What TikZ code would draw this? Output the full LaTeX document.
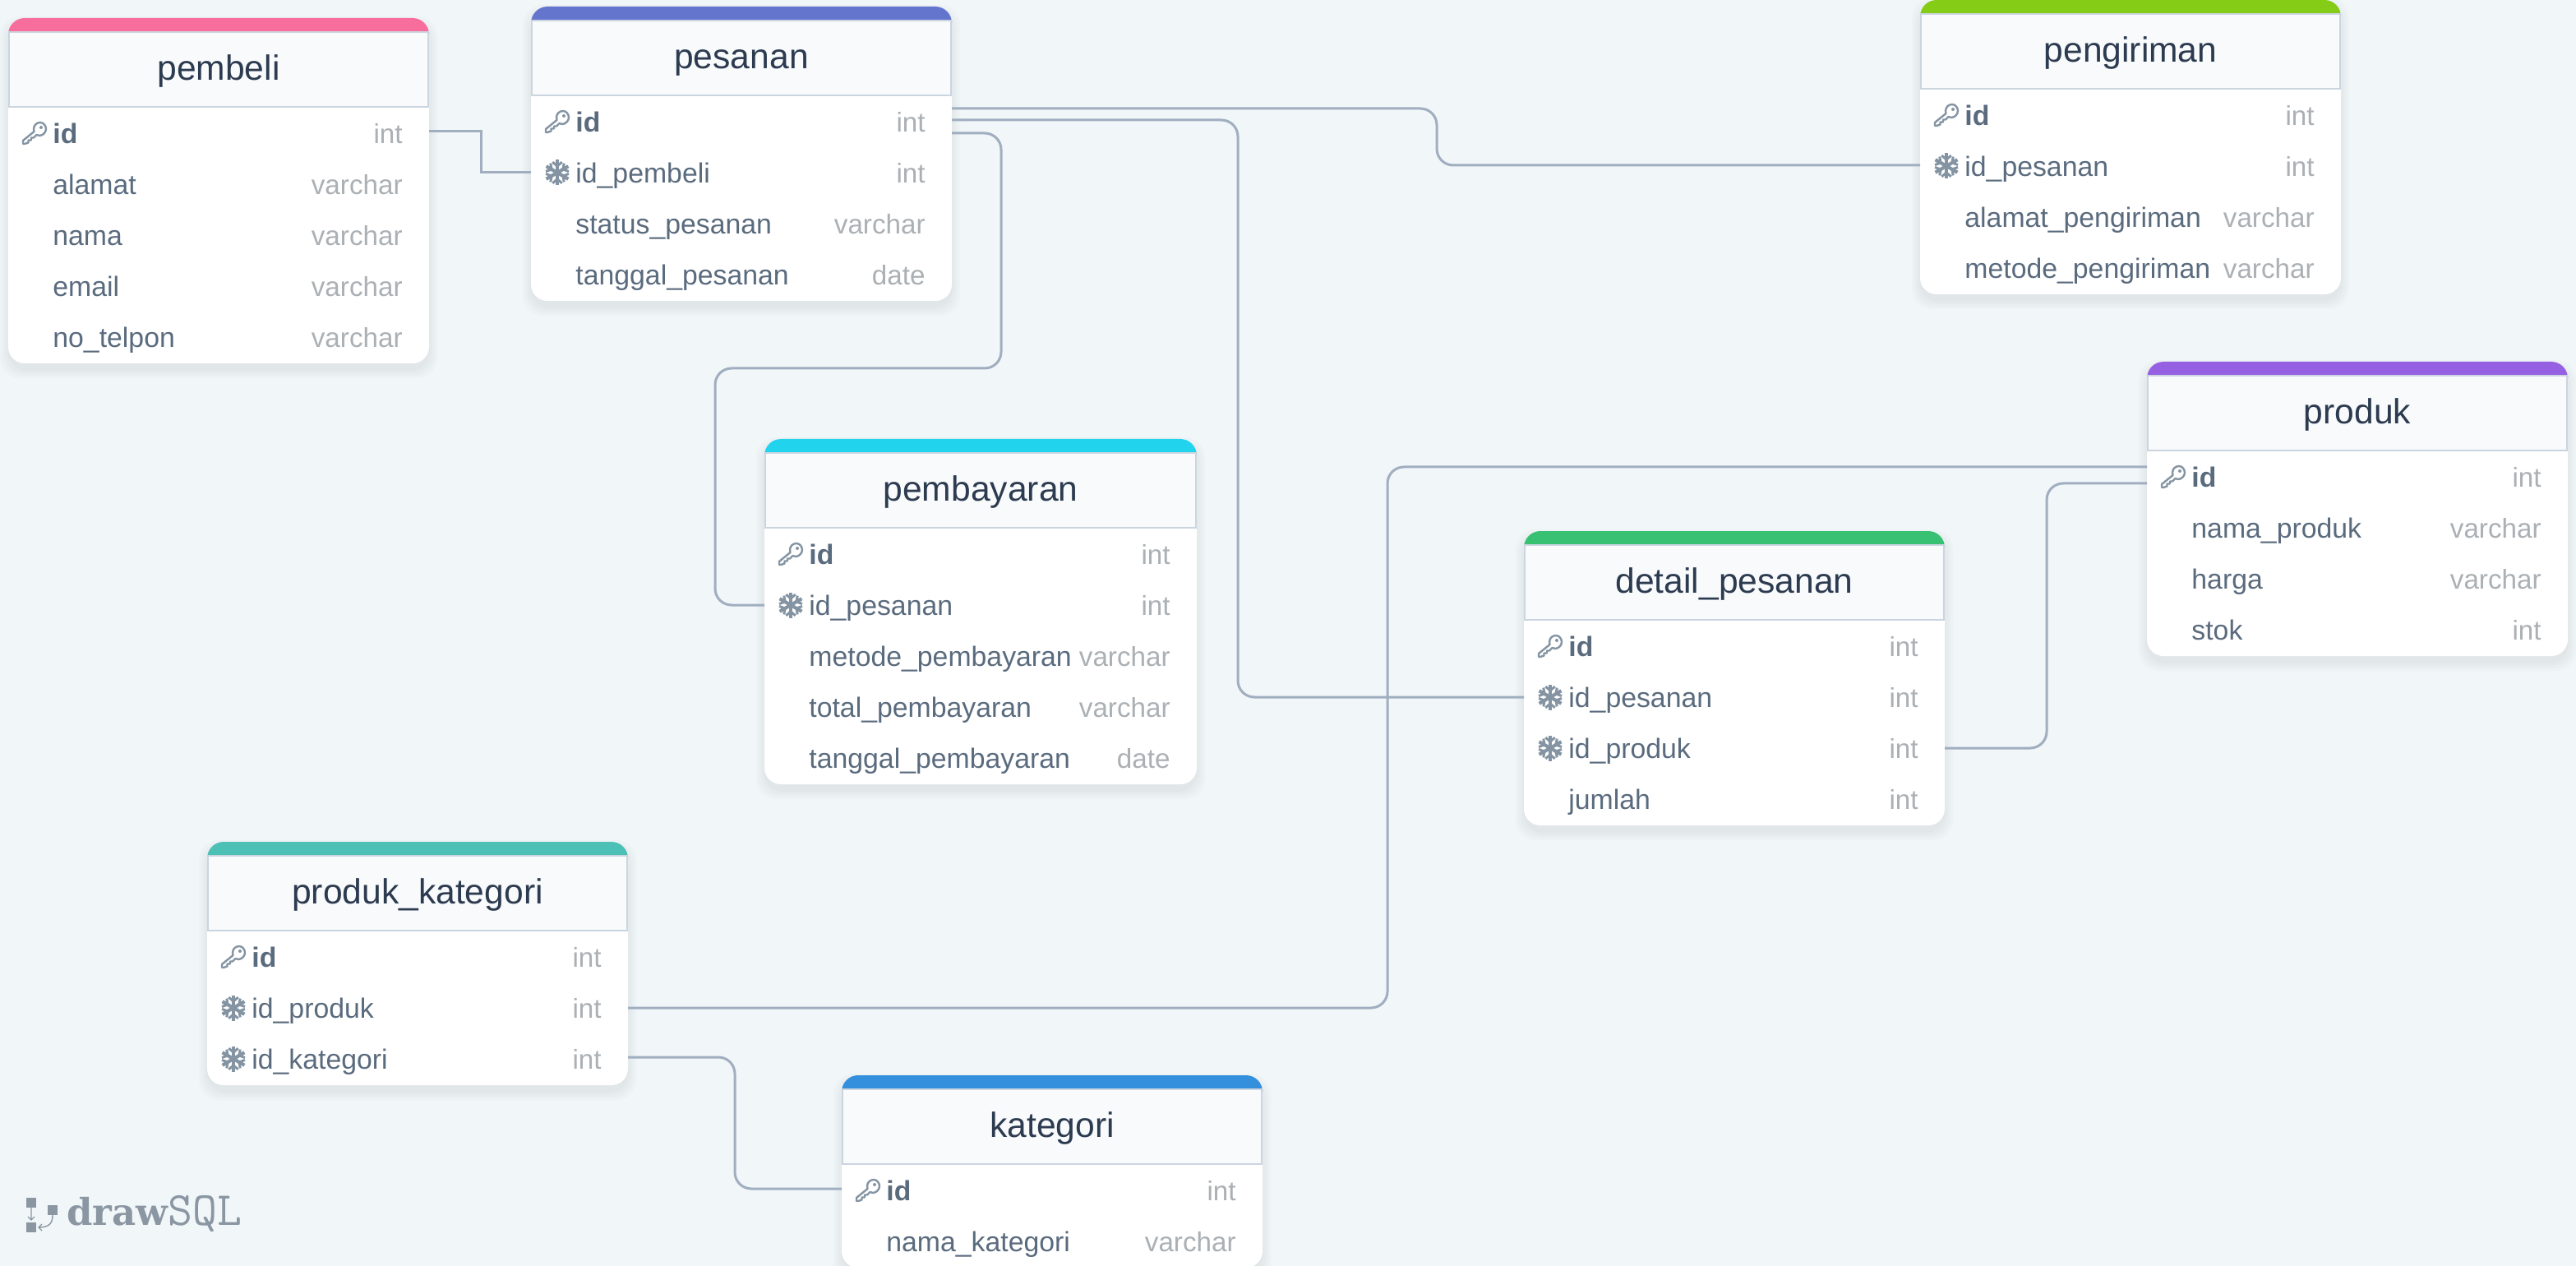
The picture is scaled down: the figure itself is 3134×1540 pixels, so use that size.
\documentclass[tikz,border=0pt]{standalone}
\usepackage{fontspec}
\setmainfont{Liberation Sans}
\newfontfamily\logoslab{DejaVu Serif}
\usepackage{tikz}

\definecolor{canvasbg}{HTML}{F1F6F9}
\definecolor{headbg}{HTML}{F8FAFC}
\definecolor{headline}{HTML}{CBD5E0}
\definecolor{titletext}{HTML}{2D3B50}
\definecolor{fieldtext}{HTML}{5A6B7E}
\definecolor{typetext}{HTML}{ABB0B4}
\definecolor{relcolor}{HTML}{A0AEC0}
\definecolor{iconcolor}{HTML}{8494A3}
\definecolor{logocolor}{HTML}{8A97A3}
\definecolor{barpink}{HTML}{F76D9B}
\definecolor{barindigo}{HTML}{6475CE}
\definecolor{barlime}{HTML}{84CC16}
\definecolor{barpurple}{HTML}{9561E2}
\definecolor{barcyan}{HTML}{22D3EE}
\definecolor{bargreen}{HTML}{38C172}
\definecolor{barteal}{HTML}{4DC0B5}
\definecolor{barblue}{HTML}{3490DC}

\tikzset{
    x=0.5pt, y=-0.5pt,
    rowbox/.style={inner sep=0pt, outer sep=0pt, minimum height=31pt},
    titlebox/.style={fill=headbg, draw=headline, line width=1pt, inner sep=0pt, outer sep=0pt,
        minimum height=45.5pt, text height=16pt, text depth=3.2pt, text=titletext,
        font=\fontsize{21.3}{24}\selectfont},
    type col/.style={inner sep=0pt, anchor=base east, text=typetext, font=\fontsize{16.6}{20}\selectfont},
    no col/.style={inner sep=0pt, anchor=base west, text=fieldtext, font=\fontsize{16.9}{20}\selectfont},
    fk col/.style={no col},
    pk col/.style={no col, font=\fontsize{16.9}{20}\selectfont\bfseries},
    relline/.style={draw=relcolor, line width=1.5pt, rounded corners=10pt},
    no icon/.pic={},
    pk icon/.pic={
        \draw[iconcolor, line width=1.2pt, line join=round]
            (-1,-5) .. controls (-1,-10) and (3,-13) .. (7,-13)
            .. controls (11,-13) and (14,-9) .. (14,-5)
            .. controls (14,-1) and (10,3) .. (6,3)
            .. controls (4.5,3) and (3.5,2.7) .. (2.5,2)
            -- (-1,5.5) -- (-4,5.5) -- (-4,8.5) -- (-7.5,8.5) -- (-7.5,11.5)
            -- (-12,13) -- (-14,13) -- (-14,9) -- (-0.5,-2) -- cycle;
        \fill[iconcolor] (8,-7) circle (1pt);
    },
    fk icon/.pic={
        \foreach \a in {30,90,...,330} {
            \draw[iconcolor, line width=2.1pt] (0,0) -- (\a:15.5);
            \draw[iconcolor, line width=1.5pt] (\a:8) +(\a+50:7.5) -- (\a:8) -- +(\a-50:7.5);
        }
    },
}

% name, title, colour, left, top, width, height, rows
\newcommand{\dbtable}[8]{
    \coordinate (#1-nw) at (#4,#5);
    \begin{scope}[shift={(#1-nw)}]
        \foreach \s in {10,7,4,1} {
            \fill[black, opacity=0.015, rounded corners=12pt]
                (-\s,-\s+8) rectangle (#6+\s,#7+\s+8);
        }
        \fill[white, rounded corners=10pt] (0,0) rectangle (#6,#7);
        \fill[#3] (0,17) [rounded corners=10pt] -- (0,0) -- (#6,0) [sharp corners] -- (#6,17) -- cycle;
        \node[titlebox, minimum width=#6*0.5pt-1pt, anchor=north] (#1) at (#6/2,17) {#2};
        \foreach \k/\f/\t [count=\i] in {#8} {
            \node[rowbox, minimum width=#6*0.5pt] (#1-\i) at (#6/2,140+62*\i-62) {};
            \node[\k\space col] (#1-\i-name) at ([xshift=27pt,yshift=-6.1pt]#1-\i.west) {\f};
            \node[type col] (#1-\i-type) at ([xshift=-16pt,yshift=-6.1pt]#1-\i.east) {\t};
            \pic at ([xshift=16pt]#1-\i.west) {\k\space icon};
        }
    \end{scope}
}

\begin{document}
\begin{tikzpicture}
    \useasboundingbox[fill=canvasbg] (0,0) rectangle (3134,1540);

    \dbtable{pembeli}{pembeli}{barpink}{10}{22}{512}{420}{pk/id/int, no/alamat/varchar, no/nama/varchar, no/email/varchar, no/no\_telpon/varchar}
    \dbtable{pesanan}{pesanan}{barindigo}{646}{8}{512}{358}{pk/id/int, fk/id\_pembeli/int, no/status\_pesanan/varchar, no/tanggal\_pesanan/date}
    \dbtable{pengiriman}{pengiriman}{barlime}{2336}{0}{512}{358}{pk/id/int, fk/id\_pesanan/int, no/alamat\_pengiriman/varchar, no/metode\_pengiriman/varchar}
    \dbtable{produk}{produk}{barpurple}{2612}{440}{512}{358}{pk/id/int, no/nama\_produk/varchar, no/harga/varchar, no/stok/int}
    \dbtable{pembayaran}{pembayaran}{barcyan}{930}{534}{526}{420}{pk/id/int, fk/id\_pesanan/int, no/metode\_pembayaran/varchar, no/total\_pembayaran/varchar, no/tanggal\_pembayaran/date}
    \dbtable{detail}{detail\_pesanan}{bargreen}{1854}{646}{512}{358}{pk/id/int, fk/id\_pesanan/int, fk/id\_produk/int, no/jumlah/int}
    \dbtable{prodkat}{produk\_kategori}{barteal}{252}{1024}{512}{296}{pk/id/int, fk/id\_produk/int, fk/id\_kategori/int}
    \dbtable{kategori}{kategori}{barblue}{1024}{1308}{512}{234}{pk/id/int, no/nama\_kategori/varchar}

    \draw[relline, sharp corners] ([yshift=1pt]pembeli-1.east) -- ++(63,0) |- (pesanan-2.west);
    \draw[relline] ([yshift=8pt]pesanan-1.east) -- ++(590,0) |- ([yshift=0.5pt]pengiriman-2.west);
    \draw[relline] ([yshift=1pt]pesanan-1.east) -- ++(348,0) |- (detail-2.west);
    \draw[relline] ([yshift=-7pt]pesanan-1.east) -- ++(60,0) -- ++(0,286) -- ++(-348,0) |- (pembayaran-2.west);
    \draw[relline] ([yshift=6pt]produk-1.west) -- ++(-924,0) |- (prodkat-2.east);
    \draw[relline] ([yshift=-4pt]produk-1.west) -- ++(-122,0) |- (detail-3.east);
    \draw[relline] ([yshift=1pt]prodkat-3.east) -- ++(130,0) |- ([yshift=1pt]kategori-1.west);

    \fill[logocolor] (32,1457) rectangle (44,1469);
    \fill[logocolor] (32,1487) rectangle (44,1499);
    \fill[logocolor] (58,1466) rectangle (70,1478);
    \draw[logocolor, line width=0.7pt] (38,1469) -- (38,1484) (34,1480) -- (38,1484) -- (42,1480);
    \draw[logocolor, line width=0.7pt] (64,1478) .. controls (64,1488) and (60,1493) .. (47,1493) (51,1489) -- (47,1493) -- (51,1497);
    \node[anchor=base west, inner sep=0pt, text=logocolor, font=\logoslab\bfseries\fontsize{22.5}{24}\selectfont] (logodraw) at (81,1490) {draw};
    \node[anchor=base west, inner sep=0pt, text=logocolor, font=\ttfamily\fontsize{29}{30}\selectfont] (logosql) at (204,1490) {SQL};
\end{tikzpicture}
\end{document}
